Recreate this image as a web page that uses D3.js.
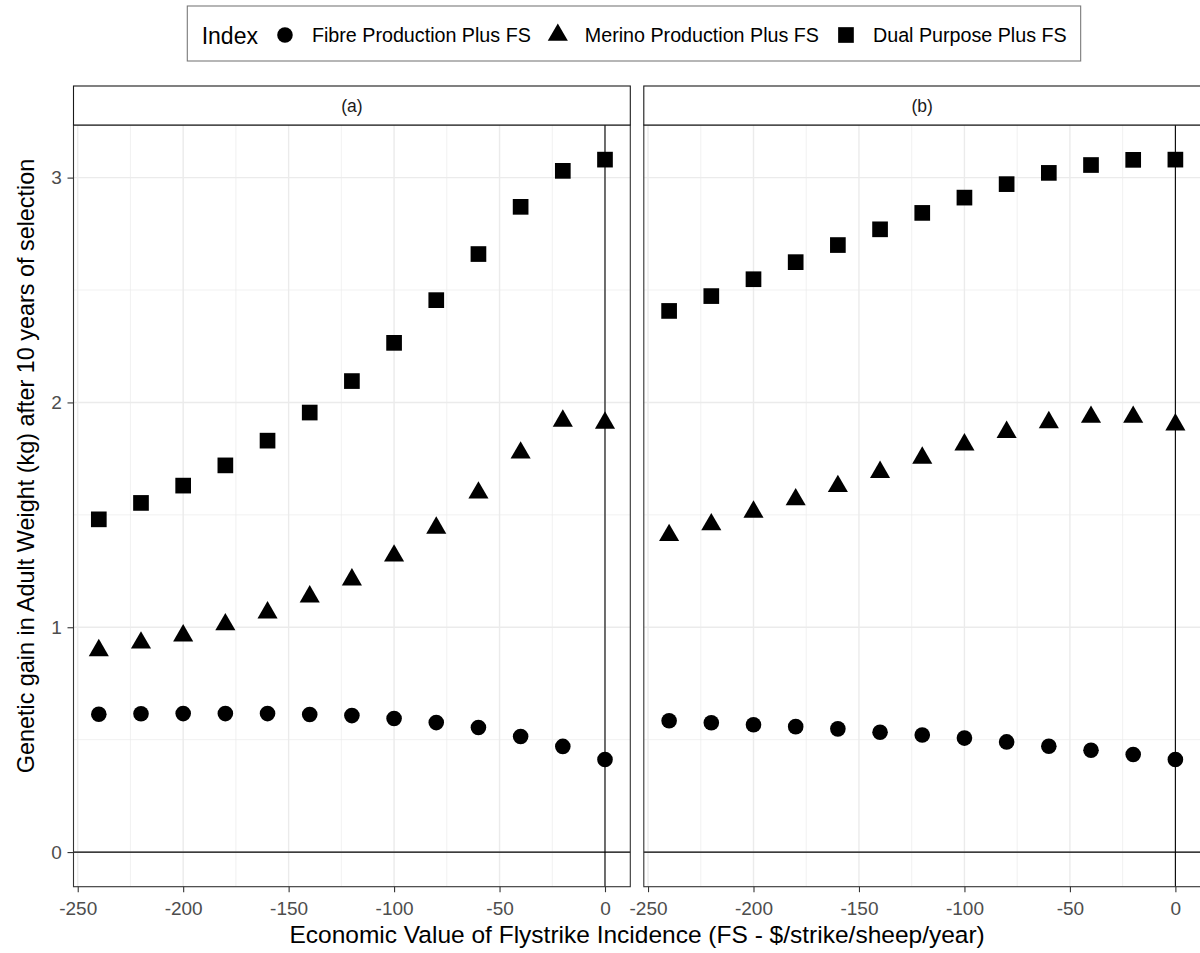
<!DOCTYPE html>
<html>
<head>
<meta charset="utf-8">
<script src="https://cdn.jsdelivr.net/npm/d3@7"></script>
<style>
  body { margin: 0; background: #fff; }
  svg { display: block; font-family: "Liberation Sans", Arial, sans-serif; }
</style>
</head>
<body>
<div id="chart"></div>
<script>
// data
const evFS = [-240, -220, -200, -180, -160, -140, -120, -100, -80, -60, -40, -20, 0];
const panelLabels = ['(a)', '(b)'];
const seriesNames = ['Fibre Production Plus FS', 'Merino Production Plus FS', 'Dual Purpose Plus FS'];
const fibreA  = [0.613, 0.615, 0.616, 0.616, 0.616, 0.612, 0.607, 0.594, 0.576, 0.554, 0.514, 0.470, 0.412];
const merinoA = [0.897, 0.931, 0.963, 1.012, 1.065, 1.136, 1.212, 1.318, 1.442, 1.598, 1.776, 1.918, 1.909];
const dualA   = [1.480, 1.553, 1.630, 1.720, 1.830, 1.955, 2.095, 2.265, 2.455, 2.660, 2.870, 3.030, 3.080];
const fibreB  = [0.584, 0.575, 0.566, 0.558, 0.548, 0.533, 0.521, 0.507, 0.490, 0.471, 0.453, 0.434, 0.412];
const merinoB = [1.409, 1.457, 1.513, 1.568, 1.627, 1.690, 1.753, 1.812, 1.868, 1.911, 1.935, 1.935, 1.901];
const dualB   = [2.407, 2.473, 2.548, 2.624, 2.700, 2.770, 2.843, 2.911, 2.971, 3.021, 3.056, 3.079, 3.080];
const xTicks = [-250, -200, -150, -100, -50, 0];
const xMinor = [-225, -175, -125, -75, -25];
const yTicks = [0, 1, 2, 3];
const yMinor = [0.5, 1.5, 2.5];

const width = 1200, height = 953;
const panelTop = 125, panelBottom = 886.7;
const panelX = [[73.5, 630.3], [643.8, 1200.7]];
const stripTop = 86;

const panelData = [[fibreA, merinoA, dualA], [fibreB, merinoB, dualB]];

// ggplot-like 5% expansion
const xExt = d3.extent(evFS);
const xPad = (xExt[1] - xExt[0]) * 0.05;
const allY = panelData.flat(2).concat([0]);
const yExt = d3.extent(allY);
const yPad = (yExt[1] - yExt[0]) * 0.05;

const yScale = d3.scaleLinear()
    .domain([yExt[0] - yPad, yExt[1] + yPad])
    .range([panelBottom, panelTop]);

const symbols = [
  d3.symbol().type(d3.symbolCircle).size(191),
  d3.symbol().type(d3.symbolTriangle).size(175),
  d3.symbol().type(d3.symbolSquare).size(246)
];

const svg = d3.select('#chart').append('svg')
    .attr('width', width)
    .attr('height', height);

panelX.forEach((range, p) => {
  const xScale = d3.scaleLinear()
      .domain([xExt[0] - xPad, xExt[1] + xPad])
      .range(range);

  const g = svg.append('g').attr('class', 'panel');

  g.append('rect')
      .attr('x', range[0]).attr('y', panelTop)
      .attr('width', range[1] - range[0]).attr('height', panelBottom - panelTop)
      .attr('fill', '#fff');

  // grid
  g.selectAll('.xminor').data(xMinor).join('line')
      .attr('x1', d => xScale(d)).attr('x2', d => xScale(d))
      .attr('y1', panelTop).attr('y2', panelBottom)
      .attr('stroke', '#ebebeb').attr('stroke-width', 0.7);
  g.selectAll('.yminor').data(yMinor).join('line')
      .attr('x1', range[0]).attr('x2', range[1])
      .attr('y1', d => yScale(d)).attr('y2', d => yScale(d))
      .attr('stroke', '#ebebeb').attr('stroke-width', 0.7);
  g.selectAll('.xmajor').data(xTicks).join('line')
      .attr('x1', d => xScale(d)).attr('x2', d => xScale(d))
      .attr('y1', panelTop).attr('y2', panelBottom)
      .attr('stroke', '#ebebeb').attr('stroke-width', 1.4);
  g.selectAll('.ymajor').data(yTicks).join('line')
      .attr('x1', range[0]).attr('x2', range[1])
      .attr('y1', d => yScale(d)).attr('y2', d => yScale(d))
      .attr('stroke', '#ebebeb').attr('stroke-width', 1.4);

  // reference lines at zero
  g.append('line')
      .attr('x1', range[0]).attr('x2', range[1])
      .attr('y1', yScale(0)).attr('y2', yScale(0))
      .attr('stroke', '#000').attr('stroke-width', 1.1);
  g.append('line')
      .attr('x1', xScale(0)).attr('x2', xScale(0))
      .attr('y1', panelTop).attr('y2', panelBottom)
      .attr('stroke', '#000').attr('stroke-width', 1.1);

  // points
  panelData[p].forEach((vals, s) => {
    g.selectAll('.pt' + s).data(vals).join('path')
        .attr('d', symbols[s]())
        .attr('transform', (d, i) => `translate(${xScale(evFS[i])},${yScale(d)})`)
        .attr('fill', '#000');
  });

  // border
  g.append('rect')
      .attr('x', range[0]).attr('y', panelTop)
      .attr('width', range[1] - range[0]).attr('height', panelBottom - panelTop)
      .attr('fill', 'none').attr('stroke', '#333').attr('stroke-width', 1.1);

  // strip
  g.append('rect')
      .attr('x', range[0]).attr('y', stripTop)
      .attr('width', range[1] - range[0]).attr('height', panelTop - stripTop)
      .attr('fill', '#fff').attr('stroke', '#1a1a1a').attr('stroke-width', 1.1);
  g.append('text')
      .attr('x', (range[0] + range[1]) / 2).attr('y', 112)
      .attr('text-anchor', 'middle')
      .attr('font-size', 17.5).attr('fill', '#1a1a1a')
      .text(panelLabels[p]);

  // x axis
  const xAxis = d3.axisBottom(xScale)
      .tickValues(xTicks)
      .tickSize(5.5)
      .tickPadding(9.5)
      .tickSizeOuter(0)
      .tickFormat(d => d);
  const xa = svg.append('g')
      .attr('transform', `translate(0,${panelBottom})`)
      .call(xAxis);
  xa.select('.domain').remove();
  xa.selectAll('line').attr('stroke', '#333').attr('stroke-width', 1.1);
  xa.selectAll('text').attr('font-size', 19).attr('fill', '#4d4d4d')
      .attr('font-family', '"Liberation Sans", Arial, sans-serif');

  if (p === 0) {
    const yAxis = d3.axisLeft(yScale)
        .tickValues(yTicks)
        .tickSize(6)
        .tickPadding(5.8)
        .tickSizeOuter(0)
        .tickFormat(d => d);
    const ya = svg.append('g')
        .attr('transform', `translate(${range[0]},0)`)
        .call(yAxis);
    ya.select('.domain').remove();
    ya.selectAll('line').attr('stroke', '#333').attr('stroke-width', 1.1);
    ya.selectAll('text').attr('font-size', 19).attr('fill', '#4d4d4d')
        .attr('font-family', '"Liberation Sans", Arial, sans-serif');
  }
});

// axis titles
svg.append('text')
    .attr('x', (panelX[0][0] + panelX[1][1]) / 2).attr('y', 943)
    .attr('text-anchor', 'middle')
    .attr('font-size', 24.5).attr('fill', '#000')
    .text('Economic Value of Flystrike Incidence (FS - $/strike/sheep/year)');
svg.append('text')
    .attr('transform', `translate(34,466) rotate(-90)`)
    .attr('text-anchor', 'middle')
    .attr('font-size', 23.4).attr('fill', '#000')
    .text('Genetic gain in Adult Weight (kg) after 10 years of selection');

// legend
const legend = svg.append('g');
const legBox = legend.append('rect')
    .attr('y', 6).attr('height', 55)
    .attr('fill', '#fff').attr('stroke', '#7a7a7a').attr('stroke-width', 1.1);
let lx = 201.7;
const title = legend.append('text')
    .attr('x', lx).attr('y', 44)
    .attr('font-size', 23).attr('fill', '#000')
    .text('Index');
lx += title.node().getComputedTextLength();
seriesNames.forEach((name, s) => {
  const kx = lx + 27;
  legend.append('path')
      .attr('d', symbols[s]())
      .attr('transform', `translate(${kx},35)`)
      .attr('fill', '#000');
  const t = legend.append('text')
      .attr('x', kx + 27).attr('y', 42)
      .attr('font-size', 19.7).attr('fill', '#000')
      .text(name);
  lx = kx + 27 + t.node().getComputedTextLength();
});
const legLeft = 187.3;
legBox.attr('x', legLeft).attr('width', lx + 14 - legLeft);
</script>
</body>
</html>
